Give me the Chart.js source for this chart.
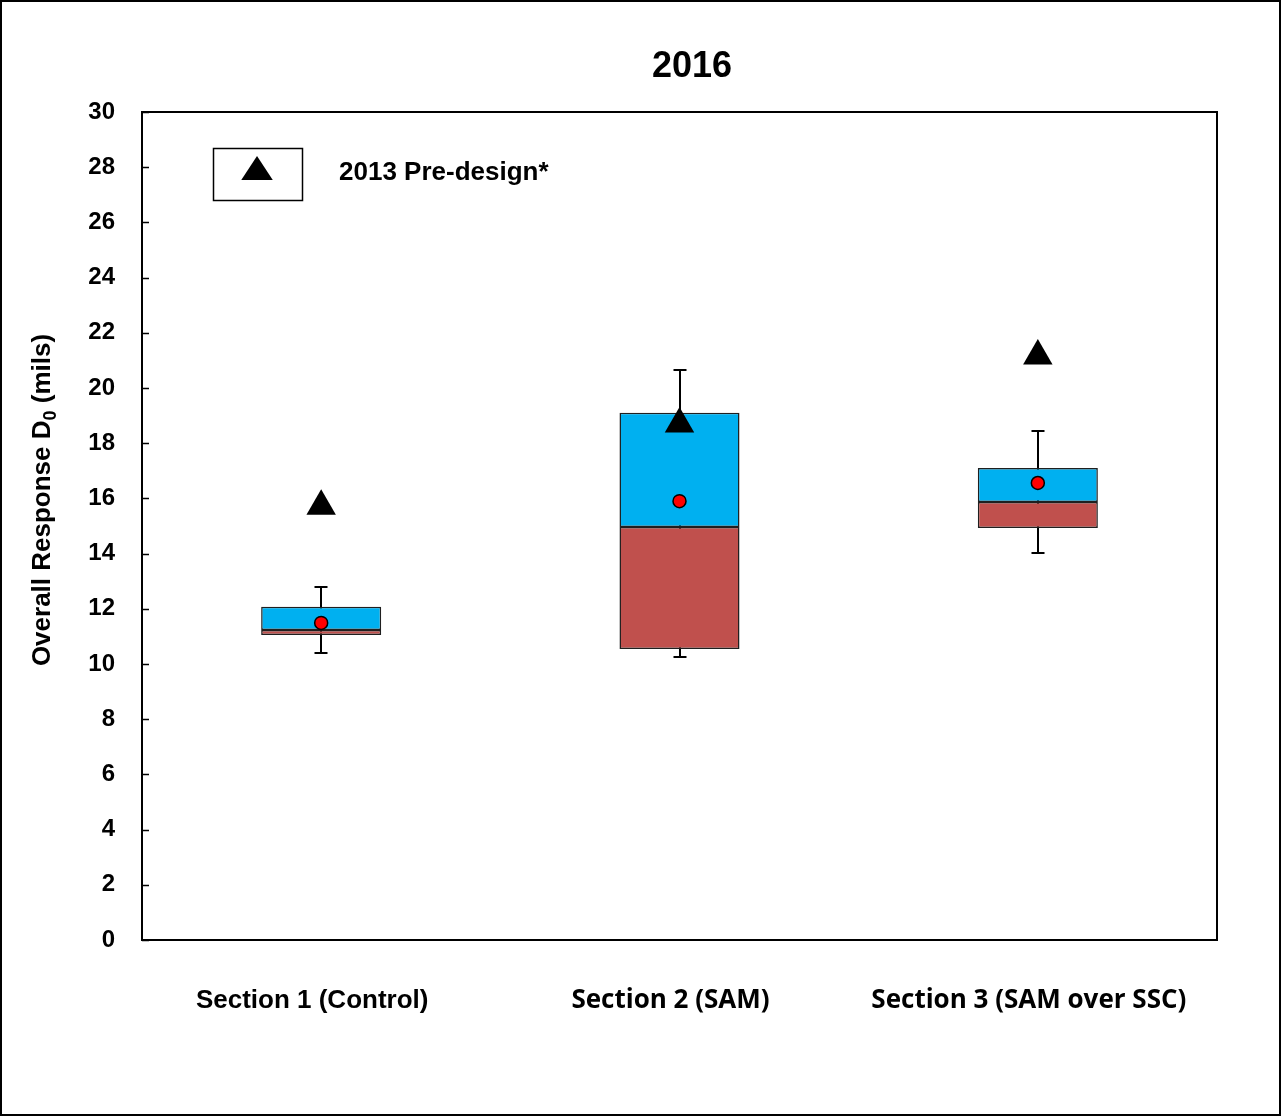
<!DOCTYPE html>
<html>
<head>
<meta charset="utf-8">
<script src="https://cdn.jsdelivr.net/npm/chart.js@4.4.1/dist/chart.umd.min.js"></script>
<style>
  html, body { margin: 0; padding: 0; background: #fff; }
  #wrap { width: 1281px; height: 1116px; position: relative; }
</style>
</head>
<body>
<div id="wrap"><canvas id="c" width="1281" height="1116"></canvas></div>
<script>
const categories = ['Section 1 (Control)', 'Section 2 (SAM)', 'Section 3 (SAM over SSC)'];
const q1 = [11.05, 10.54, 14.93];
const median = [11.23, 14.96, 15.87];
const q3 = [12.07, 19.1, 17.1];
const whiskerLow = [10.4, 10.25, 14.02];
const whiskerHigh = [12.79, 20.65, 18.44];
const mean = [11.49, 15.9, 16.56];
const preDesign2013 = [15.72, 18.7, 21.16];
const yTickValues = [0, 2, 4, 6, 8, 10, 12, 14, 16, 18, 20, 22, 24, 26, 28, 30];
const titleText = '2016';
const yTitleMain = 'Overall Response D';
const yTitleSub = '0';
const yTitleTail = ' (mils)';
const legendLabel = '2013 Pre-design*';

const lowerBox = q1.map((v, i) => [v, median[i]]);
const upperBox = median.map((v, i) => [v, q3[i]]);

const ARIAL = '"Liberation Sans", Arial, sans-serif';
const CAL = '"Open Sans", "Liberation Sans", sans-serif';

const decor = {
  id: 'decor',
  beforeDraw(chart) {
    const ctx = chart.ctx;
    ctx.save();
    ctx.fillStyle = '#fff';
    ctx.fillRect(0, 0, chart.width, chart.height);
    ctx.restore();
  },
  beforeDatasetsDraw(chart) {
    const ctx = chart.ctx;
    const xs = chart.scales.x, ys = chart.scales.y;
    ctx.save();
    ctx.strokeStyle = '#000';
    ctx.lineWidth = 2;
    for (let i = 0; i < categories.length; i++) {
      const x = Math.round(xs.getPixelForValue(i));
      const yl = ys.getPixelForValue(whiskerLow[i]);
      const yh = ys.getPixelForValue(whiskerHigh[i]);
      ctx.beginPath();
      ctx.moveTo(x, yl); ctx.lineTo(x, yh);
      ctx.moveTo(x - 6.5, yl); ctx.lineTo(x + 6.5, yl);
      ctx.moveTo(x - 6.5, yh); ctx.lineTo(x + 6.5, yh);
      ctx.stroke();
    }
    ctx.restore();
  },
  afterDraw(chart) {
    const ctx = chart.ctx;
    const a = chart.chartArea;
    const ys = chart.scales.y;
    ctx.save();
    // plot frame
    ctx.strokeStyle = '#000';
    ctx.lineWidth = 2;
    ctx.strokeRect(a.left, a.top, a.right - a.left, a.bottom - a.top);
    // inward ticks
    ctx.lineWidth = 1.5;
    ctx.beginPath();
    yTickValues.forEach(v => {
      const y = Math.round(ys.getPixelForValue(v)) + 0.5;
      ctx.moveTo(a.left, y); ctx.lineTo(a.left + 7, y);
    });
    ctx.stroke();
    // outer frame
    ctx.lineWidth = 2;
    ctx.strokeRect(1, 1, chart.width - 2, chart.height - 2);
    // title
    ctx.fillStyle = '#000';
    ctx.font = 'bold 36px ' + ARIAL;
    ctx.textAlign = 'center';
    ctx.textBaseline = 'middle';
    ctx.fillText(titleText, 692, 67);
    // y axis title with subscript
    ctx.translate(43, 500);
    ctx.rotate(-Math.PI / 2);
    ctx.textBaseline = 'middle';
    const fMain = 'bold 26px ' + ARIAL;
    const fSub = 'bold 18px ' + ARIAL;
    ctx.font = fMain;
    const w1 = ctx.measureText(yTitleMain).width;
    const w3 = ctx.measureText(yTitleTail).width;
    ctx.font = fSub;
    const w2 = ctx.measureText(yTitleSub).width;
    const total = w1 + w2 + w3;
    let x0 = -total / 2;
    ctx.textAlign = 'left';
    ctx.font = fMain;
    ctx.fillText(yTitleMain, x0, 0);
    ctx.font = fSub;
    ctx.fillText(yTitleSub, x0 + w1, 8);
    ctx.font = fMain;
    ctx.fillText(yTitleTail, x0 + w1 + w2, 0);
    ctx.restore();
    // legend
    ctx.save();
    ctx.strokeStyle = '#000';
    ctx.lineWidth = 1.5;
    ctx.strokeRect(213.5, 148.5, 89, 52);
    ctx.fillStyle = '#000';
    const cx = 257, cy = 171, r = 15;
    ctx.beginPath();
    ctx.moveTo(cx, cy - r);
    ctx.lineTo(cx + r * 1.05, cy + r * 0.6);
    ctx.lineTo(cx - r * 1.05, cy + r * 0.6);
    ctx.closePath();
    ctx.fill();
    ctx.font = 'bold 26px ' + ARIAL;
    ctx.textBaseline = 'middle';
    ctx.textAlign = 'left';
    ctx.fillText(legendLabel, 339, 173);
    ctx.restore();
  }
};

new Chart(document.getElementById('c'), {
  type: 'bar',
  data: {
    labels: categories,
    datasets: [
      {
        label: 'Lower',
        data: lowerBox,
        backgroundColor: '#C0504D',
        borderColor: '#1f1f1f',
        borderWidth: 1.5,
        borderSkipped: false,
        grouped: false,
        barPercentage: 0.335,
        categoryPercentage: 1,
        order: 3
      },
      {
        label: 'Upper',
        data: upperBox,
        backgroundColor: '#00B0F0',
        borderColor: '#1f1f1f',
        borderWidth: 1.5,
        borderSkipped: false,
        grouped: false,
        barPercentage: 0.335,
        categoryPercentage: 1,
        order: 2
      },
      {
        type: 'line',
        label: 'Mean',
        data: mean,
        showLine: false,
        pointStyle: 'circle',
        pointRadius: 6.5,
        pointBackgroundColor: '#FF0000',
        pointBorderColor: '#000',
        pointBorderWidth: 1.5,
        order: 1
      },
      {
        type: 'line',
        label: legendLabel,
        data: preDesign2013,
        showLine: false,
        pointStyle: 'triangle',
        pointRadius: 17,
        pointBackgroundColor: '#000',
        pointBorderColor: '#000',
        pointBorderWidth: 0,
        order: 0
      }
    ]
  },
  options: {
    responsive: false,
    animation: false,
    layout: { padding: { left: 0, right: 64, top: 112, bottom: 0 } },
    plugins: {
      legend: { display: false },
      tooltip: { enabled: false },
      title: { display: false }
    },
    scales: {
      x: {
        type: 'category',
        offset: true,
        grid: { display: false, drawTicks: false },
        border: { display: false },
        ticks: {
          color: '#000',
          padding: 45,
          labelOffset: -9,
          font: (c) => c.index === 0
            ? { family: ARIAL, size: 26, weight: 'bold' }
            : { family: CAL, size: 26, weight: 'bold' },
          maxRotation: 0,
          autoSkip: false
        },
        afterFit(s) { s.height = 176; }
      },
      y: {
        min: 0,
        max: 30,
        grid: { display: false, drawTicks: false },
        border: { display: false },
        ticks: {
          stepSize: 2,
          color: '#000',
          padding: 27,
          font: { family: ARIAL, size: 24, weight: 'bold' }
        },
        afterFit(s) { s.width = 142; }
      }
    }
  },
  plugins: [decor]
});
</script>
</body>
</html>
